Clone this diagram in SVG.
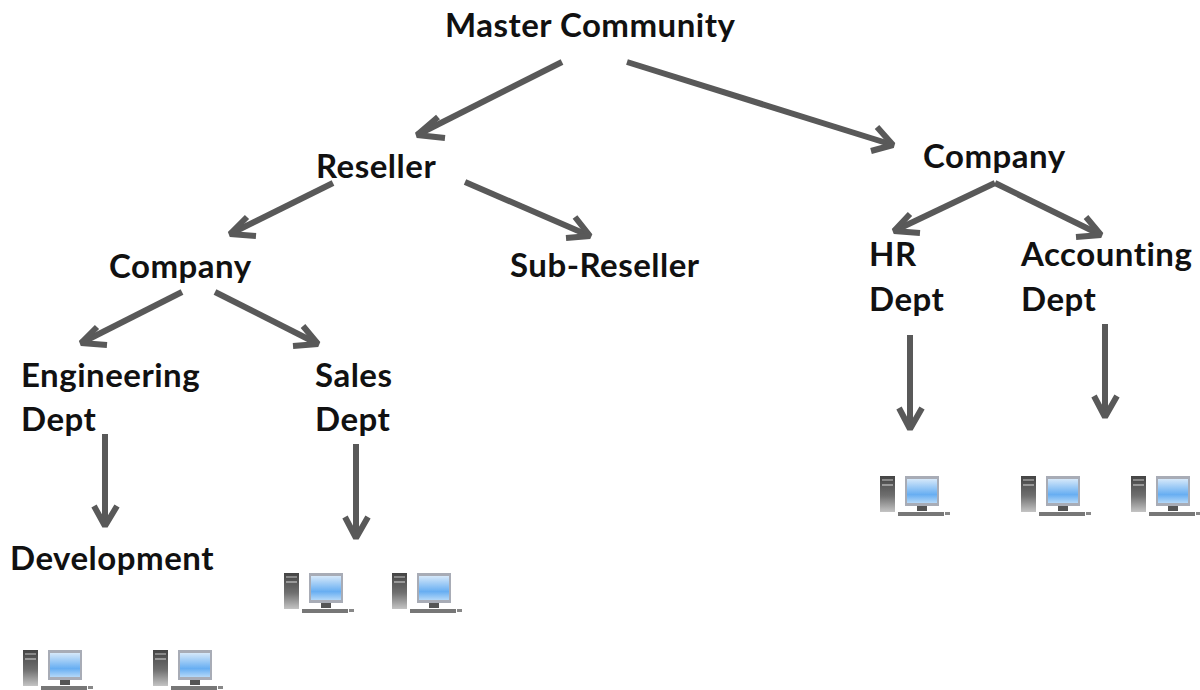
<svg xmlns="http://www.w3.org/2000/svg" width="1200" height="690" viewBox="0 0 1200 690">
<style>
text{font-family:Lato,"Open Sans","Liberation Sans",sans-serif;font-weight:700;font-size:33px;letter-spacing:.5px;fill:#111}
.c line,.c path{stroke:#595959;stroke-width:6;fill:none;stroke-linejoin:bevel}
</style>
<defs>
<linearGradient id="s" x1="0" y1="0" x2="0" y2="1"><stop offset="0" stop-color="#d5e8fa"/><stop offset=".65" stop-color="#67aef2"/><stop offset="1" stop-color="#b4d8f8"/></linearGradient>
<linearGradient id="t" x1="0" y1="0" x2="0" y2="1"><stop offset="0" stop-color="#444"/><stop offset=".55" stop-color="#6f6f6f"/><stop offset="1" stop-color="#c4c4c4"/></linearGradient>
<filter id="b" x="-10%" y="-10%" width="120%" height="120%"><feGaussianBlur stdDeviation=".55"/></filter>
<g id="pc" filter="url(#b)">
<rect x="0" y="0" width="15" height="36" fill="url(#t)"/>
<rect x="2" y="3" width="11" height="2" fill="#888"/>
<rect x="2" y="8" width="11" height="2" fill="#999"/>
<rect x="25" y="0" width="34" height="30" fill="#a8acb6"/>
<rect x="27" y="3" width="30" height="24" fill="url(#s)"/>
<rect x="37" y="30" width="10" height="5" fill="#555"/>
<rect x="18" y="36" width="46" height="4" fill="#777"/>
<rect x="65" y="36" width="5" height="3" fill="#888"/>
</g>
</defs>
<g class="c" id="connectors">
<path d="M562 62L417 135"/><path d="M438 117L417 135L445 138"/>
<path d="M627 62L893 145"/><path d="M877 127L893 145L871 151"/>
<path d="M333 183L230 234"/><path d="M247 217L230 234L256 236"/>
<path d="M465 182L590 236"/><path d="M575 217L590 236L566 238"/>
<path d="M182 292L81 343"/><path d="M97 327L81 343L107 345"/>
<path d="M215 292L318 344"/><path d="M303 326L318 344L293 346"/>
<path d="M995 183L894 231"/><path d="M910 214L894 231L920 233"/>
<path d="M995 183L1101 235"/><path d="M1086 217L1101 235L1076 237"/>
<line x1="105" y1="434" x2="105" y2="526"/><path d="M94 506L105 526L117 506"/>
<line x1="356" y1="444" x2="356" y2="538"/><path d="M345 517L356 538L368 517"/>
<line x1="910" y1="335" x2="910" y2="429"/><path d="M899 408L910 429L922 408"/>
<line x1="1105" y1="324" x2="1105" y2="417"/><path d="M1094 396L1105 417L1117 396"/>
</g>
<g id="master"><text x="445" y="37">Master Community</text></g>
<g id="reseller"><text x="316" y="178">Reseller</text></g>
<g id="company-right"><text x="923" y="168">Company</text></g>
<g id="company-left"><text x="109" y="278">Company</text></g>
<g id="sub-reseller"><text x="510" y="277">Sub-Reseller</text></g>
<g id="hr"><text x="869" y="266">HR</text><text x="869" y="311">Dept</text></g>
<g id="accounting"><text x="1021" y="266">Accounting</text><text x="1021" y="311">Dept</text></g>
<g id="engineering"><text x="21" y="387">Engineering</text><text x="21" y="431">Dept</text></g>
<g id="sales"><text x="315" y="387">Sales</text><text x="315" y="431">Dept</text></g>
<g id="development"><text x="10" y="570">Development</text></g>
<g id="pc-1"><use href="#pc" x="23" y="650"/></g>
<g id="pc-2"><use href="#pc" x="153" y="650"/></g>
<g id="pc-3"><use href="#pc" x="284" y="573"/></g>
<g id="pc-4"><use href="#pc" x="392" y="573"/></g>
<g id="pc-5"><use href="#pc" x="880" y="476"/></g>
<g id="pc-6"><use href="#pc" x="1021" y="476"/></g>
<g id="pc-7"><use href="#pc" x="1131" y="476"/></g>
</svg>
